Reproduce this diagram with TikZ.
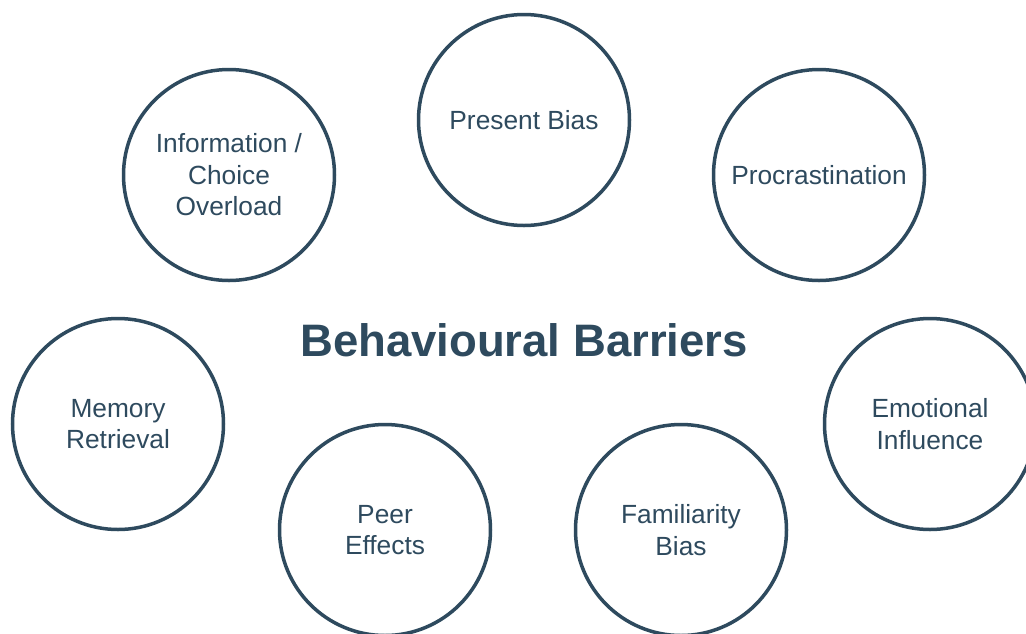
\documentclass[tikz,border=0pt]{standalone}
\usepackage{fontspec}
\setmainfont{Liberation Sans}
\usepackage{xcolor}
\usetikzlibrary{positioning}
\definecolor{slate}{HTML}{2E4A5E}

\begin{document}
\begin{tikzpicture}[
    x=1pt, y=-1pt,
    barrier/.style={circle, draw=slate, line width=3.5pt, fill=white,
                    minimum size=211pt, inner sep=0pt, align=center,
                    text=slate, font=\fontsize{26.3}{31.5}\selectfont},
    heading/.style={text=slate, font=\fontsize{45.5}{50}\selectfont\bfseries},
]

% Canvas, circles run off the right and bottom edges
\clip (0,0) rectangle (1026,633);
\fill[white] (0,0) rectangle (1026,633);

% Centre title
\node[heading] (title) at (524,340) {Behavioural Barriers};

% Top row
\node[barrier] (present) at (524,120) {Present Bias};
\node[barrier] (overload) at (229,175) {Information /\\Choice\\Overload};
\node[barrier] (procrast) at (819,175) {Procrastination};

% Side circles
\node[barrier] (memory) at (118,424) {Memory\\Retrieval};
\node[barrier] (emotion) at (930,424) {Emotional\\Influence};

% Bottom row
\node[barrier] (peer) at (385,530) {Peer\\Effects};
\node[barrier] (familiar) at (681,530) {Familiarity\\Bias};

\end{tikzpicture}
\end{document}
